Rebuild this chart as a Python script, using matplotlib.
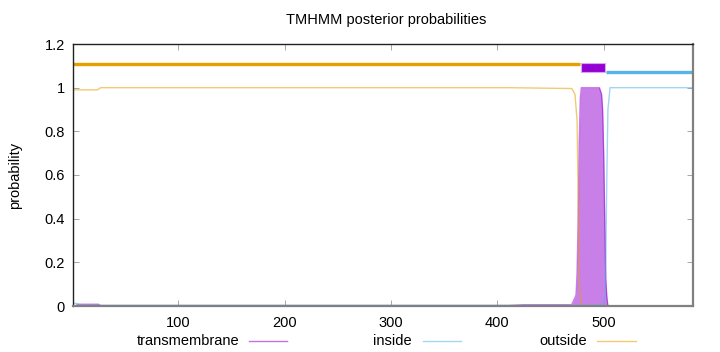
import matplotlib
matplotlib.use("Agg")
import matplotlib.pyplot as plt
from matplotlib.patches import Rectangle
from matplotlib.lines import Line2D

plt.rcParams['font.family'] = ['Liberation Sans', 'DejaVu Sans']

seq_len = 584

# topology (predicted segments)
outside_seg = [1, 478]
tm_seg = [479, 501]
inside_seg = [502, 584]

# posterior probabilities (key points)
outside_x = [1, 24, 27, 410, 440, 470, 473, 475, 476, 477, 478, 480, 584]
outside_y = [0.99, 0.99, 1.0, 1.0, 0.998, 0.996, 0.97, 0.85, 0.5, 0.15, 0.03, 0.0, 0.0]

inside_x = [1, 4, 8, 30, 470, 499, 501, 502, 503, 504, 506, 583, 584]
inside_y = [0.012, 0.012, 0.004, 0.003, 0.003, 0.005, 0.04, 0.2, 0.6, 0.9, 1.0, 1.0, 0.99]

tm_x = [1, 4, 5, 25, 27, 410, 425, 470, 474, 475, 476, 477, 478, 479, 480, 496, 498, 499, 500, 501, 502, 503, 504, 584]
tm_y = [0.0, 0.0, 0.008, 0.008, 0.002, 0.002, 0.006, 0.006, 0.05, 0.15, 0.4, 0.75, 0.95, 1.0, 1.0, 1.0, 0.97, 0.9, 0.7, 0.4, 0.12, 0.04, 0.0, 0.0]

title = "TMHMM posterior probabilities"
ylabel = "probability"
xticks = [100, 200, 300, 400, 500]
yticks = [0, 0.2, 0.4, 0.6, 0.8, 1.0, 1.2]
ytick_labels = ["0", "0.2", "0.4", "0.6", "0.8", "1", "1.2"]
legend_labels = ["transmembrane", "inside", "outside"]

c_tm = '#9400d3'
c_in = '#56b4e9'
c_out = '#e69f00'

W, H = 720, 352
fig = plt.figure(figsize=(7.2, 3.52), dpi=100)
ax = fig.add_axes([73/W, 1-306/H, (693-73)/W, (306-44)/H])

# posterior curves
ax.fill_between(tm_x, 0, tm_y, color=c_tm, alpha=0.5, lw=0)
ax.plot(tm_x, tm_y, color=c_tm, alpha=0.5, lw=1)
ax.plot(inside_x, inside_y, color=c_in, alpha=0.55, lw=1)
ax.plot(outside_x, outside_y, color=c_out, alpha=0.55, lw=1)

# topology bars
ax.plot(outside_seg, [1.11, 1.11], color=c_out, lw=2.4, solid_capstyle='butt')
ax.plot(inside_seg, [1.07, 1.07], color=c_in, lw=2.4, solid_capstyle='butt')
ax.add_patch(Rectangle((tm_seg[0], 1.07), tm_seg[1]-tm_seg[0], 0.043,
                       facecolor=c_tm, edgecolor='#d9a6f0', lw=0.8, zorder=3))

ax.set_xlim(1, seq_len)
ax.set_ylim(0, 1.2)
ax.set_xticks(xticks)
ax.set_yticks(yticks)
ax.set_yticklabels(ytick_labels)
ax.tick_params(direction='in', length=4, width=0.6, color='#999999',
               labelsize=10.5, top=True, right=True, pad=6)
ax.tick_params(axis='x', pad=7)
for s in ['top', 'left']:
    ax.spines[s].set_color('#222222')
    ax.spines[s].set_linewidth(1.0)
for s in ['bottom', 'right']:
    ax.spines[s].set_color('#808080')
    ax.spines[s].set_linewidth(1.6)

fig.text(386/W, 1-20/H, title, ha='center', va='center', fontsize=10.5)
fig.text(15/W, 1-175/H, ylabel, ha='center', va='center', rotation=90, fontsize=10.5)

# gnuplot-style legend: right-aligned label followed by sample line
colors = [c_tm, c_in, c_out]
text_right = [239, 412, 587]
line_spans = [(249, 287), (423, 461), (597, 636)]
ly = 1 - 341/H
for lab, col, tr, (x0, x1) in zip(legend_labels, colors, text_right, line_spans):
    fig.text(tr/W, ly, lab, ha='right', va='center', fontsize=10.5)
    fig.add_artist(Line2D([x0/W, x1/W], [ly, ly], color=col, alpha=0.55, lw=1,
                          transform=fig.transFigure))

fig.savefig("out.png", dpi=100)
